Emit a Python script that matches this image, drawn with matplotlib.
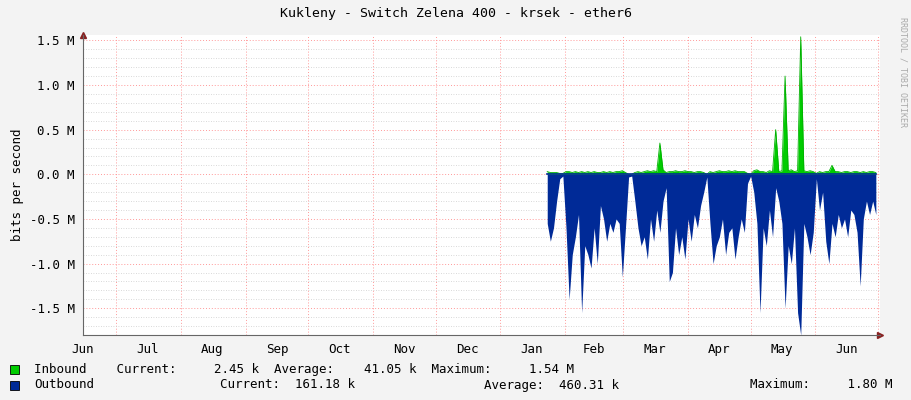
import matplotlib
matplotlib.use("Agg")
import matplotlib.pyplot as plt
import numpy as np

# days since Jun 15 of previous year
month_starts = [16, 47, 78, 108, 139, 169, 200, 231, 259, 290, 320, 351, 381]
month_mids = [0, 31, 62, 93, 123, 154, 184, 215, 245, 274, 305, 335, 366]
month_labels = ["Jun", "Jul", "Aug", "Sep", "Oct", "Nov", "Dec", "Jan", "Feb", "Mar", "Apr", "May", "Jun"]

data_start = 222.5
step = 1.5
outbound = [0.55, 0.75, 0.6, 0.3, 0.05, 0.02, 0.6, 1.4, 0.9, 0.7, 0.45, 1.55,
            0.8, 0.9, 1.05, 0.6, 1.0, 0.35, 0.5, 0.75, 0.55, 0.65, 0.5, 0.55, 1.15,
            0.6, 0.03, 0.02, 0.3, 0.6, 0.8, 0.7, 0.95, 0.5, 0.75, 0.4, 0.65, 0.3,
            0.15, 1.2, 1.1, 0.6, 0.9, 0.7, 0.95, 0.5, 0.75, 0.45, 0.6, 0.35, 0.2,
            0.03, 0.55, 1.0, 0.8, 0.7, 0.5, 0.9, 0.65, 0.6, 0.95, 0.7, 0.5, 0.65,
            0.1, 0.02, 0.2, 0.55, 1.55, 0.6, 0.8, 0.4, 0.7, 0.15, 0.3, 0.55, 1.5,
            0.8, 1.0, 0.6, 1.55, 1.8, 0.55, 0.7, 0.9, 0.65, 0.05, 0.4, 0.2, 0.75,
            1.0, 0.55, 0.7, 0.45, 0.6, 0.5, 0.7, 0.4, 0.45, 0.65, 1.25, 0.5, 0.3,
            0.45, 0.3, 0.45]
inbound = [0.03, 0.02, 0.02, 0.02, 0.01, 0.01, 0.03, 0.03, 0.02, 0.03, 0.02, 0.03,
           0.02, 0.03, 0.02, 0.03, 0.02, 0.02, 0.03, 0.02, 0.03, 0.02, 0.03, 0.03, 0.04,
           0.02, 0.0, 0.0, 0.02, 0.03, 0.02, 0.03, 0.04, 0.03, 0.04, 0.03, 0.35, 0.05,
           0.02, 0.03, 0.03, 0.04, 0.03, 0.03, 0.04, 0.03, 0.03, 0.02, 0.03, 0.03, 0.02,
           0.0, 0.03, 0.02, 0.03, 0.04, 0.03, 0.03, 0.04, 0.03, 0.04, 0.03, 0.03, 0.03,
           0.01, 0.0, 0.04, 0.05, 0.03, 0.03, 0.02, 0.04, 0.03, 0.5, 0.03, 0.04, 1.1,
           0.04, 0.05, 0.03, 0.04, 1.54, 0.04, 0.03, 0.04, 0.03, 0.01, 0.03, 0.02, 0.03,
           0.03, 0.1, 0.03, 0.03, 0.02, 0.03, 0.03, 0.02, 0.03, 0.03, 0.02, 0.03, 0.02,
           0.03, 0.03, 0.02]

x = data_start + step * np.arange(len(outbound))
out_v = -np.array(outbound) * 1e6
in_v = np.array(inbound) * 1e6

plt.rcParams["font.family"] = "DejaVu Sans Mono"
fig = plt.figure(figsize=(9.11, 4.0), dpi=100, facecolor="#F3F3F3")
ax = fig.add_axes([83 / 911, 65 / 400, 797 / 911, 300 / 400])
ax.set_facecolor("white")

ax.fill_between(x, 0, out_v, color="#002A97", linewidth=0)
ax.fill_between(x, 0, in_v, color="#00CC00", linewidth=0)
ax.plot(x, in_v, color="#00B000", linewidth=0.6)
ax.plot([x[0], x[-1]], [0, 0], color="#002A97", linewidth=1.2)

ax.set_xlim(0, 382)
ax.set_ylim(-1.8e6, 1.56e6)

yt = np.arange(-1.5e6, 1.51e6, 0.5e6)
ax.set_yticks(yt)
ax.set_yticklabels([f"{v / 1e6:.1f} M" for v in yt], fontsize=9)
ax.set_yticks(np.arange(-1.8e6, 1.56e6, 0.1e6), minor=True)
ax.set_xticks(month_starts)
ax.set_xticklabels([])
ax.set_xticks(month_mids, minor=True)
ax.set_xticklabels(month_labels, minor=True, fontsize=9)
ax.tick_params(axis="x", which="both", length=0, pad=6)
ax.tick_params(axis="y", which="both", length=0, pad=6)

ax.grid(True, which="major", color="#FF9999", linestyle=(0, (1, 2)), linewidth=0.7)
ax.grid(True, which="minor", axis="y", color="#CCCCCC", linestyle=(0, (1, 2)), linewidth=0.6)
ax.set_axisbelow(True)
for s in ["top", "right"]:
    ax.spines[s].set_visible(False)
for s in ["left", "bottom"]:
    ax.spines[s].set_color("#666666")
ax.plot(1, 0, ">", transform=ax.transAxes, color="#882222", markersize=4, clip_on=False)
ax.plot(0, 1, "^", transform=ax.transAxes, color="#882222", markersize=4, clip_on=False)

ax.set_ylabel("bits per second", fontsize=9)
fig.text(0.5, 1 - 14 / 400, "Kukleny - Switch Zelena 400 - krsek - ether6",
         ha="center", va="center", fontsize=9.5)
fig.text(903 / 911, 0.82, "RRDTOOL / TOBI OETIKER", rotation=270, ha="center",
         va="center", fontsize=6, color="#AAAAAA")

fig.patches.append(plt.Rectangle((10 / 911, 1 - 374 / 400), 9 / 911, 9 / 400,
                                 transform=fig.transFigure, facecolor="#00CC00",
                                 edgecolor="black", linewidth=0.6))
fig.patches.append(plt.Rectangle((10 / 911, 1 - 390 / 400), 9 / 911, 9 / 400,
                                 transform=fig.transFigure, facecolor="#002A97",
                                 edgecolor="black", linewidth=0.6))
fig.text(34 / 911, 1 - 369 / 400, "Inbound    Current:     2.45 k  Average:    41.05 k  Maximum:     1.54 M",
         fontsize=9, va="center")
fig.text(34 / 911, 1 - 385 / 400, "Outbound", fontsize=9, va="center")
fig.text(220 / 911, 1 - 385 / 400, "Current:  161.18 k", fontsize=9, va="center")
fig.text(484 / 911, 1 - 385 / 400, "Average:  460.31 k", fontsize=9, va="center")
fig.text(893 / 911, 1 - 385 / 400, "Maximum:     1.80 M", fontsize=9, va="center", ha="right")

fig.savefig("out.png", dpi=100, facecolor=fig.get_facecolor())
